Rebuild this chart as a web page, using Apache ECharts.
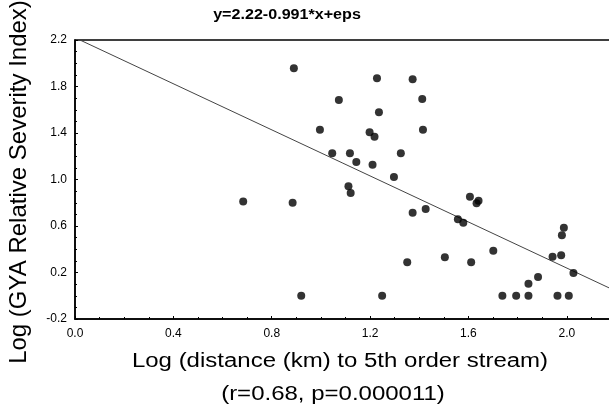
<!DOCTYPE html>
<html><head><meta charset="utf-8">
<script src="https://cdn.jsdelivr.net/npm/echarts@6/dist/echarts.min.js"></script>
<style>html,body{margin:0;padding:0;background:#fff}#c{width:609px;height:410px}</style>
</head><body><div id="c"></div>
<script>
const xValues = [0.684,0.885,0.890,0.920,0.996,1.046,1.073,1.112,1.121,1.118,1.144,1.198,1.210,1.218,1.228,1.236,1.249,1.297,1.325,1.351,1.373,1.373,1.412,1.415,1.426,1.504,1.557,1.579,1.606,1.611,1.633,1.641,1.701,1.738,1.794,1.844,1.844,1.883,1.942,1.962,1.977,1.980,1.988,2.008,2.027];
const yValues = [0.81,0.80,1.957,0.0,1.428,1.225,1.684,0.941,0.884,1.225,1.150,1.406,1.127,1.368,1.870,1.578,0.0,1.021,1.225,0.288,1.862,0.714,1.692,1.428,0.746,0.331,0.657,0.629,0.852,0.288,0.795,0.818,0.388,0.0,0.0,0.0,0.104,0.161,0.336,0.0,0.348,0.52,0.585,0.0,0.196];
const fitIntercept = 2.22;
const fitSlope = -0.991;
const fitX = [0, 2.2];
const titleText = "y=2.22-0.991*x+eps";
const xTitle = "Log (distance (km) to 5th order stream)";
const xSubtitle = "(r=0.68, p=0.000011)";
const yTitle = "Log (GYA Relative Severity Index)";

const points = xValues.map((x, i) => [x, yValues[i]]);
const fitLine = fitX.map(x => [x, fitIntercept + fitSlope * x]);
const ff = "'Liberation Sans', Arial, sans-serif";

function label(text, x, y, size, weight, scaleX, rotation) {
  return {
    type: 'text', x: x, y: y, scaleX: scaleX, rotation: rotation || 0, silent: true,
    style: { text: text, x: 0, y: 0, textAlign: 'center', textVerticalAlign: 'middle',
      align: 'center', verticalAlign: 'middle',
      font: weight + ' ' + size + 'px ' + ff, fill: '#000' }
  };
}

const chart = echarts.init(document.getElementById('c'));
chart.setOption({
  animation: false,
  backgroundColor: '#fff',
  grid: { left: 75, top: 40, width: 541, height: 279, outerBoundsMode: 'none', containLabel: false,
    show: true, borderColor: '#000', borderWidth: 1.5, backgroundColor: 'transparent' },
  xAxis: {
    type: 'value', min: 0, max: 2.2, interval: 0.4,
    axisLine: { show: true, onZero: false, lineStyle: { color: '#000', width: 1.5 } },
    axisTick: { show: true, inside: true, length: 3, lineStyle: { color: '#000' } },
    minorTick: { show: true, splitNumber: 4, length: 2, lineStyle: { color: '#000' } },
    splitLine: { show: false },
    axisLabel: { color: '#000', fontFamily: ff, fontSize: 12, margin: 9,
      formatter: v => (Math.abs(v - 2.2) < 1e-6 ? '' : v.toFixed(1)) }
  },
  yAxis: {
    type: 'value', min: -0.2, max: 2.2, interval: 0.4,
    axisLine: { show: true, onZero: false, lineStyle: { color: '#000', width: 1.5 } },
    axisTick: { show: true, inside: true, length: 3, lineStyle: { color: '#000' } },
    minorTick: { show: true, splitNumber: 4, length: 2, lineStyle: { color: '#000' } },
    splitLine: { show: false },
    axisLabel: { color: '#000', fontFamily: ff, fontSize: 12, margin: 8, formatter: v => v.toFixed(1) }
  },
  graphic: [
    label(titleText, 287, 15, 14, 'bold', 1.15),
    label(xTitle, 340, 361, 20, 'normal', 1.2),
    label(xSubtitle, 333, 394, 20, 'normal', 1.2),
    label(yTitle, 19, 182, 24, 'normal', 1.0, Math.PI / 2)
  ],
  series: [
    { type: 'line', data: fitLine, symbol: 'none', clip: true, lineStyle: { color: '#444', width: 1 }, z: 2 },
    { type: 'scatter', data: points, symbol: 'circle', symbolSize: 8, itemStyle: { color: '#000' }, z: 3 }
  ]
});
</script></body></html>
